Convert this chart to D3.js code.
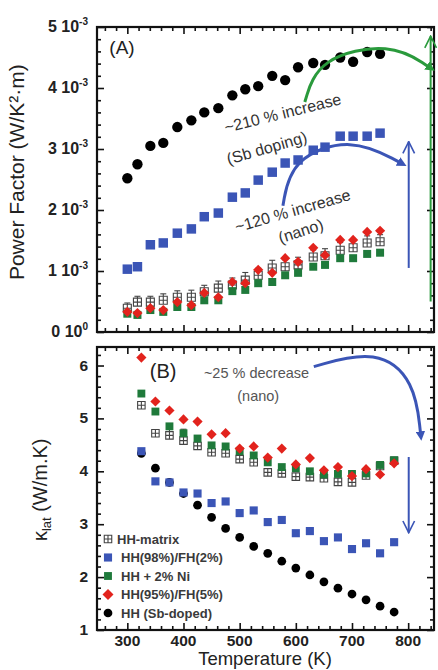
<!DOCTYPE html>
<html>
<head>
<meta charset="utf-8">
<title>Power factor and lattice thermal conductivity</title>
<script src="https://cdn.jsdelivr.net/npm/d3@7"></script>
<style>
  body { margin: 0; background: #fff; }
  text { font-family: "Liberation Sans", Arial, sans-serif; }
</style>
</head>
<body>
<div id="chart"></div>
<script>
// ---- data ----
// panel A: power factor, in units of 1e-3 W/K^2.m
var tempTop = [300, 318, 341, 364, 389, 414, 437, 462, 487, 510, 533, 558, 581, 604, 631, 652, 679, 702, 727, 750];
var pfMatrix = [0.39, 0.49, 0.49, 0.52, 0.57, 0.57, 0.66, 0.72, 0.77, 0.85, 0.93, 1.05, 1.07, 1.10, 1.23, 1.25, 1.34, 1.38, 1.46, 1.48];
var pfMatrixErr = [0.02, 0.03, 0.03, 0.04, 0.04, 0.05, 0.04, 0.05, 0.05, 0.06, 0.05, 0.06, 0.05, 0.06, 0.05, 0.05, 0.06, 0.05, 0.05, 0.05];
var pfFH2 = [1.03, 1.07, 1.43, 1.46, 1.62, 1.69, 1.89, 1.95, 2.21, 2.28, 2.49, 2.62, 2.77, 2.82, 2.98, 3.03, 3.21, 3.21, 3.21, 3.26];
var pfNi = [0.30, 0.28, 0.36, 0.33, 0.41, 0.41, 0.52, 0.52, 0.67, 0.69, 0.80, 0.82, 0.93, 0.97, 1.07, 1.10, 1.21, 1.21, 1.28, 1.30];
var pfFH5 = [0.33, 0.31, 0.39, 0.36, 0.49, 0.44, 0.64, 0.57, 0.82, 0.80, 1.02, 0.97, 1.21, 1.15, 1.38, 1.26, 1.51, 1.51, 1.64, 1.66];
var pfSb = [2.52, 2.75, 3.05, 3.10, 3.36, 3.47, 3.60, 3.67, 3.88, 3.98, 4.03, 4.20, 4.13, 4.34, 4.41, 4.38, 4.50, 4.43, 4.59, 4.56];

// panel B: lattice thermal conductivity, W/m.K
var tempBot = [325, 350, 375, 400, 425, 450, 475, 500, 525, 550, 575, 600, 625, 650, 675, 700, 725, 750, 775];
var kMatrix = [5.25, 4.72, 4.68, 4.58, 4.48, 4.36, 4.34, 4.23, 4.17, 3.98, 3.96, 3.90, 3.89, 3.87, 3.80, 3.79, 3.92, 4.10, 4.20];
var kMatrixErr = [0, 0, 0.08, 0.14, 0, 0.06, 0.06, 0, 0.05, 0, 0.05, 0, 0, 0, 0, 0, 0, 0, 0];
var kFH2 = [4.38, 3.81, 3.79, 3.60, 3.58, 3.40, 3.43, 3.21, 3.26, 3.04, 3.08, 2.83, 2.87, 2.68, 2.75, 2.53, 2.64, 2.45, 2.66];
var kNi = [5.47, 5.13, 4.85, 4.72, 4.62, 4.49, 4.47, 4.38, 4.30, 4.17, 4.08, 4.06, 4.00, 3.94, 3.95, 3.95, 3.96, 4.12, 4.21];
var kFH5 = [6.15, 5.32, 5.15, 4.98, 4.94, 4.70, 4.72, 4.43, 4.47, 4.26, 4.43, 4.13, 4.25, 4.02, 4.08, 3.91, 4.04, 3.94, 4.15];
var kSb = [4.34, 4.06, 3.79, 3.58, 3.36, 3.13, 2.92, 2.75, 2.58, 2.45, 2.30, 2.17, 2.04, 1.91, 1.79, 1.68, 1.57, 1.45, 1.34];

var xTicks = [300, 400, 500, 600, 700, 800];
var pfTicks = [0, 1, 2, 3, 4, 5];
var kTicks = [1, 2, 3, 4, 5, 6];
var legendNames = ["HH-matrix", "HH(98%)/FH(2%)", "HH + 2% Ni", "HH(95%)/FH(5%)", "HH (Sb-doped)"];

var W = 438, H = 670;
var svg = d3.select("#chart").append("svg").attr("width", W).attr("height", H);

var x = d3.scaleLinear().domain([246, 846]).range([97, 434]);
var yTop = d3.scaleLinear().domain([0, 5]).range([332, 27]);
var yBot = d3.scaleLinear().domain([1, 6.35]).range([630, 347]);

var blue = "#3b55b6", green = "#1f7a3b", red = "#e2231d", grey = "#444";

// arrow heads
var defs = svg.append("defs");
function headFilled(id, col) {
  defs.append("marker").attr("id", id).attr("viewBox", "0 0 10 10")
    .attr("refX", 2).attr("refY", 5).attr("markerWidth", 3.2).attr("markerHeight", 3.2)
    .attr("orient", "auto").attr("markerUnits", "strokeWidth")
    .append("path").attr("d", "M0,0 L10,5 L0,10 z").attr("fill", col);
}
function headOpen(id, col) {
  defs.append("marker").attr("id", id).attr("viewBox", "0 0 12 12")
    .attr("refX", 11).attr("refY", 6).attr("markerWidth", 7).attr("markerHeight", 7)
    .attr("orient", "auto").attr("markerUnits", "strokeWidth")
    .append("path").attr("d", "M1,1 L11,6 L1,11").attr("fill", "none")
    .attr("stroke", col).attr("stroke-width", 1.4);
}
headFilled("hb", blue); headFilled("hg", "#2a9a3c");
headOpen("ob", blue); headOpen("og", "#2a9a3c");

// open square with a cross, the HH-matrix symbol
var crossSquare = {
  draw: function (ctx, size) {
    var s = Math.sqrt(size) / 2;
    ctx.moveTo(-s, -s); ctx.lineTo(s, -s); ctx.lineTo(s, s); ctx.lineTo(-s, s); ctx.closePath();
    ctx.moveTo(0, -s); ctx.lineTo(0, s);
    ctx.moveTo(-s, 0); ctx.lineTo(s, 0);
  }
};

function frame(g, y, yMaj, yMinStep) {
  var y0 = y.range()[0], y1 = y.range()[1];
  var yd = y.domain();
  var xMin = d3.range(260, 846, 20).filter(function (v) { return v % 100 != 0; });
  var yMin = d3.range(yd[0], yd[1], yMinStep).filter(function (v) {
    return Math.abs(v - Math.round(v)) > 1e-6;
  });
  function axisPair(make, scale, maj, min, tr) {
    var a = g.append("g").attr("transform", tr)
      .call(make(scale).tickValues(maj).tickSize(-7).tickFormat(""));
    a.select(".domain").remove();
    var b = g.append("g").attr("transform", tr)
      .call(make(scale).tickValues(min).tickSize(-4).tickFormat(""));
    b.select(".domain").remove();
    g.selectAll(".tick line").attr("stroke", "#111").attr("stroke-width", 1.6);
  }
  axisPair(d3.axisBottom, x, xTicks, xMin, "translate(0," + y0 + ")");
  axisPair(d3.axisTop, x, xTicks, xMin, "translate(0," + y1 + ")");
  axisPair(d3.axisLeft, y, yMaj, yMin, "translate(" + x.range()[0] + ",0)");
  axisPair(d3.axisRight, y, yMaj, yMin, "translate(" + x.range()[1] + ",0)");
  g.append("rect").attr("x", x.range()[0]).attr("y", y1)
    .attr("width", x.range()[1] - x.range()[0]).attr("height", y0 - y1)
    .attr("fill", "none").attr("stroke", "#111").attr("stroke-width", 2.2);
}

function series(g, temps, vals, y, type, size, fill, stroke, rot) {
  var sym = d3.symbol().type(type).size(size);
  g.append("g").selectAll("path").data(vals).join("path")
    .attr("d", sym)
    .attr("transform", function (d, i) {
      return "translate(" + x(temps[i]) + "," + y(d) + ")" + (rot ? " rotate(45)" : "");
    })
    .attr("fill", fill).attr("stroke", stroke).attr("stroke-width", stroke == "none" ? 0 : 1.1);
}

function errBars(g, temps, vals, errs, y) {
  var e = g.append("g").attr("stroke", grey).attr("stroke-width", 1.1);
  vals.forEach(function (v, i) {
    if (!errs[i]) return;
    var xx = x(temps[i]), ya = y(v) - 4, yb = y(v + errs[i]) - 4;
    e.append("line").attr("x1", xx).attr("x2", xx).attr("y1", ya).attr("y2", yb);
    e.append("line").attr("x1", xx - 3).attr("x2", xx + 3).attr("y1", yb).attr("y2", yb);
  });
}

// slanted annotation text
function rotText(g, tx, ty, ang, str, size, col) {
  g.append("text").attr("transform", "translate(" + tx + "," + ty + ") rotate(" + ang + ")")
    .attr("text-anchor", "middle").attr("font-size", size).attr("fill", col).text(str);
}

// ---------------- panel A ----------------
var gA = svg.append("g");
frame(gA, yTop, pfTicks, 0.2);

errBars(gA, tempTop, pfMatrix, pfMatrixErr, yTop);
series(gA, tempTop, pfMatrix, yTop, crossSquare, 64, "#fff", grey, false);
series(gA, tempTop, pfNi, yTop, d3.symbolSquare, 64, green, "none", false);
series(gA, tempTop, pfFH5, yTop, d3.symbolSquare, 52, red, "none", true);
series(gA, tempTop, pfFH2, yTop, d3.symbolSquare, 90, blue, "none", false);
series(gA, tempTop, pfSb, yTop, d3.symbolCircle, 84, "#000", "none", false);

// y tick labels "n 10^-3"
var lblA = gA.append("g").attr("font-weight", "bold").attr("fill", "#222");
pfTicks.forEach(function (v) {
  var t = lblA.append("text").attr("x", 88).attr("y", yTop(v) + 5).attr("text-anchor", "end")
    .attr("font-size", 16);
  t.append("tspan").text(v + " 10");
  t.append("tspan").attr("dy", -7).attr("font-size", 10).text(v == 0 ? "0" : "-3");
});

gA.append("text").attr("x", x(268)).attr("y", yTop(4.55)).attr("font-size", 19)
  .attr("fill", "#222").text("(A)");

// annotations
rotText(gA, x(579), yTop(3.5), -14, "~210 % increase", 16, "#333");
rotText(gA, x(551), yTop(2.93), -16, "(Sb doping)", 16, "#333");
rotText(gA, x(597), yTop(1.9), -16, "~120 % increase", 16, "#333");
rotText(gA, x(612), yTop(1.57), -18, "(nano)", 16, "#333");

var curve = d3.line().curve(d3.curveBasis);
gA.append("path")
  .attr("d", curve([[x(577), yTop(2.07)], [x(592), yTop(2.85)], [x(700), yTop(3.2)], [x(785), yTop(2.78)]]))
  .attr("fill", "none").attr("stroke", blue).attr("stroke-width", 3).attr("marker-end", "url(#hb)");
gA.append("line").attr("x1", x(801)).attr("x2", x(801)).attr("y1", yTop(1.05)).attr("y2", yTop(3.12))
  .attr("stroke", blue).attr("stroke-width", 2).attr("marker-end", "url(#ob)");

gA.append("path")
  .attr("d", curve([[x(616), yTop(3.77)], [x(640), yTop(4.5)], [x(770), yTop(4.75)], [x(836), yTop(4.35)]]))
  .attr("fill", "none").attr("stroke", "#2a9a3c").attr("stroke-width", 3).attr("marker-end", "url(#hg)");
gA.append("line").attr("x1", x(840)).attr("x2", x(840)).attr("y1", yTop(0.5)).attr("y2", yTop(4.85))
  .attr("stroke", "#2a9a3c").attr("stroke-width", 2).attr("marker-end", "url(#og)");

gA.append("text").attr("transform", "translate(24," + yTop(2.62) + ") rotate(-90)")
  .attr("text-anchor", "middle").attr("font-size", 21).attr("fill", "#222")
  .text("Power Factor (W/K\u00B2\u00B7m)");

// ---------------- panel B ----------------
var gB = svg.append("g");
frame(gB, yBot, kTicks, 0.2);

errBars(gB, tempBot, kMatrix, kMatrixErr, yBot);
series(gB, tempBot, kMatrix, yBot, crossSquare, 56, "#fff", grey, false);
series(gB, tempBot, kSb, yBot, d3.symbolCircle, 60, "#000", "none", false);
series(gB, tempBot, kFH2, yBot, d3.symbolSquare, 66, blue, "none", false);
series(gB, tempBot, kNi, yBot, d3.symbolSquare, 62, green, "none", false);
series(gB, tempBot, kFH5, yBot, d3.symbolSquare, 52, red, "none", true);

var lblB = gB.append("g").attr("font-weight", "bold").attr("fill", "#222").attr("font-size", 15.5);
kTicks.forEach(function (v) {
  lblB.append("text").attr("x", 88).attr("y", yBot(v) + 5).attr("text-anchor", "end").text(v);
});
xTicks.forEach(function (v) {
  lblB.append("text").attr("x", x(v)).attr("y", 646).attr("text-anchor", "middle").text(v);
});

gB.append("text").attr("x", x(340)).attr("y", yBot(5.77)).attr("font-size", 20)
  .attr("fill", "#222").text("(B)");

gB.append("text").attr("x", x(530)).attr("y", yBot(5.77)).attr("text-anchor", "middle")
  .attr("font-size", 14.5).attr("fill", "#555").text("~25 % decrease");
gB.append("text").attr("x", x(533)).attr("y", yBot(5.33)).attr("text-anchor", "middle")
  .attr("font-size", 14.5).attr("fill", "#555").text("(nano)");

gB.append("path")
  .attr("d", curve([[x(632), yBot(5.98)], [x(745), yBot(6.32)], [x(812), yBot(5.7)], [x(822), yBot(4.72)]]))
  .attr("fill", "none").attr("stroke", blue).attr("stroke-width", 3).attr("marker-end", "url(#hb)");
gB.append("line").attr("x1", x(801)).attr("x2", x(801)).attr("y1", yBot(4.27)).attr("y2", yBot(2.84))
  .attr("stroke", blue).attr("stroke-width", 2).attr("marker-end", "url(#ob)");

var yl = gB.append("text").attr("transform", "translate(47," + yBot(3.65) + ") rotate(-90)")
  .attr("text-anchor", "middle").attr("font-size", 20).attr("fill", "#222");
yl.append("tspan").text("\u03BA");
yl.append("tspan").attr("font-size", 13).attr("dy", 4).text("lat");
yl.append("tspan").attr("dy", -4).text(" (W/m.K)");

svg.append("text").attr("x", 265).attr("y", 665).attr("text-anchor", "middle")
  .attr("font-family", "DejaVu Sans").attr("font-size", 18.5).attr("fill", "#222")
  .text("Temperature (K)");

// legend
var legSyms = [
  { type: crossSquare, size: 56, fill: "#fff", stroke: grey, rot: false },
  { type: d3.symbolSquare, size: 66, fill: blue, stroke: "none", rot: false },
  { type: d3.symbolSquare, size: 62, fill: green, stroke: "none", rot: false },
  { type: d3.symbolSquare, size: 60, fill: red, stroke: "none", rot: true },
  { type: d3.symbolCircle, size: 60, fill: "#000", stroke: "none", rot: false }
];
var legY = d3.scalePoint().domain(legendNames).range([539, 613]);
var leg = gB.append("g");
legendNames.forEach(function (n, i) {
  var s = legSyms[i];
  leg.append("path").attr("d", d3.symbol().type(s.type).size(s.size))
    .attr("transform", "translate(108," + legY(n) + ")" + (s.rot ? " rotate(45)" : ""))
    .attr("fill", s.fill).attr("stroke", s.stroke).attr("stroke-width", s.stroke == "none" ? 0 : 1.1);
  leg.append("text").attr("x", i == 0 ? 117 : 121).attr("y", legY(n) + 4.5)
    .attr("font-size", 13).attr("font-weight", "bold").attr("fill", "#3a3a3a").text(n);
});
</script>
</body>
</html>
